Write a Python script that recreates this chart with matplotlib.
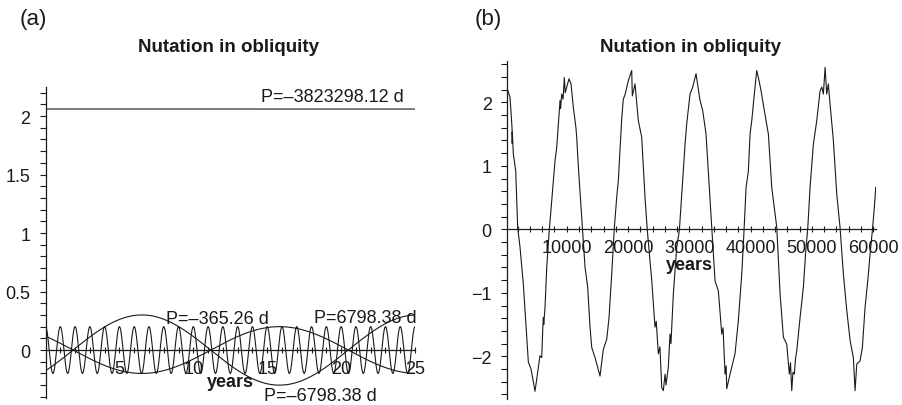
import numpy as np
import matplotlib
matplotlib.use("Agg")
import matplotlib.pyplot as plt
from matplotlib import font_manager
from matplotlib.ticker import FixedLocator, MultipleLocator, FixedFormatter

# ---------------------------------------------------------------------------
# Data
# ---------------------------------------------------------------------------
# panel (a): individual nutation terms (period in days, amplitude, year of max)
term_periods_d = [-3823298.12, -365.26, 6798.38, -6798.38]
term_amplitudes = [2.06, 0.20, 0.30, 0.20]
term_peak_year = [0.0, 0.0, 6.52, 15.83]
term_labels = ["P=–3823298.12 d", "P=–365.26 d", "P=6798.38 d", "P=–6798.38 d"]
label_x = [19.42, 11.64, 21.65, 18.57]
label_y = [2.17, 0.27, 0.28, -0.39]

# panel (b): summed nutation in obliquity
years_b = [
    310, 750, 1080, 1110, 1130, 1290, 1680, 2000, 2380, 2920, 3470, 3740,
    4180, 4830, 5640, 5920, 6100, 6190, 6250, 6460, 6740, 7110, 7550, 8090,
    8370, 8910, 9000, 9180, 9400, 9610, 9750, 10000, 10380, 10700, 11080,
    11500, 11630, 11900, 12550, 12990, 13420, 13800, 14080, 14620, 15430,
    15970, 16530, 16900, 17340, 17770, 18150, 18420, 18970, 19230, 19510,
    20050, 20600, 20700, 21140, 21680, 22230, 22770, 23150, 23870, 24400,
    24600, 24940, 25200, 25500, 25760, 26040, 26200, 26570, 26850, 27000,
    27390, 27940, 28370, 28760, 29300, 29570, 30110, 30550, 31090, 31740,
    32180, 32720, 33260, 33650, 34190, 34730, 35290, 35500, 35820, 36000,
    36100, 36640, 37450, 37990, 38550, 38920, 39250, 39630, 39900, 40180,
    40600, 40990, 41370, 41700, 42230, 42890, 43440, 44260, 44800, 45340,
    45890, 46310, 46500, 46700, 46900, 47130, 47300, 47520, 48060, 48600,
    48990, 49320, 49690, 50230, 50780, 51320, 51600, 51860, 52140, 52410,
    52670, 52950, 53490, 54040, 54580, 55120, 55680, 56220, 56750, 57030,
    57310, 57850, 58220, 58660, 59100, 59480, 59850, 60180, 60400,
]
obliquity_b = [
    2.21, 2.08, 1.60, 1.35, 1.53, 1.19, 0.92, 0.03, -0.28, -0.86, -1.70, -2.09,
    -2.20, -2.55, -1.99, -2.02, -1.55, -1.39, -1.50, -1.23, -0.60, -0.07, 0.45, 1.08,
    1.29, 2.03, 1.90, 2.13, 2.05, 2.39, 2.15, 2.24, 2.37, 2.29, 1.92,
    1.60, 1.45, 0.98, 0.03, -0.60, -0.91, -1.54, -1.86, -2.02, -2.31,
    -1.89, -1.73, -1.39, -0.70, 0.03, 0.50, 0.77, 1.74, 2.05, 2.12,
    2.34, 2.50, 2.10, 2.29, 1.71, 1.45, 0.50, -0.02, -0.81, -1.54,
    -1.45, -1.96, -1.85, -2.49, -2.54, -2.28, -2.45, -2.17, -1.65, -1.80,
    -1.02, -0.28, -0.02, 0.56, 1.34, 1.66, 2.13, 2.24, 2.45, 2.03,
    1.87, 1.50, 0.66, 0.03, -0.81, -0.97, -1.65, -1.55, -2.28, -2.15,
    -2.51, -2.28, -1.96, -1.44, -0.70, -0.02, 0.66, 0.92, 1.50, 1.71,
    2.13, 2.50, 2.34, 2.18, 1.87, 1.50, 0.66, 0.03, -1.02, -1.70,
    -1.81, -2.28, -2.10, -2.54, -2.25, -2.28, -2.05, -1.91, -1.39, -0.91,
    -0.34, 0.03, 0.66, 1.34, 1.71, 2.18, 2.24, 2.13, 2.55, 2.13,
    2.29, 1.97, 1.40, 0.56, 0.03, -0.70, -1.28, -1.75, -2.02, -2.54,
    -2.12, -2.07, -1.86, -1.23, -0.81, -0.39, -0.02, 0.35, 0.66,
]

a_xticks = [5, 10, 15, 20, 25]
a_yticks = [0, 0.5, 1, 1.5, 2]
a_yticklabels = ["0", "0.5", "1", "1.5", "2"]
b_xticks = [10000, 20000, 30000, 40000, 50000, 60000]
b_yticks = [-2, -1, 0, 1, 2]
b_yticklabels = ["−2", "−1", "0", "1", "2"]

# ---------------------------------------------------------------------------
names = {f.name for f in font_manager.fontManager.ttflist}
FONT = "Liberation Sans Narrow" if "Liberation Sans Narrow" in names else "Liberation Sans"
plt.rcParams["font.family"] = [FONT, "DejaVu Sans"]

INK = "#1a1a1a"
FS = 13

fig = plt.figure(figsize=(9.03, 4.06), dpi=100)
ax_a = fig.add_axes([0.0504, 0.0172, 0.4092, 0.7666])
ax_b = fig.add_axes([0.5614, 0.0150, 0.4084, 0.8323])


def maple_axes(ax, xlim, ylim):
    ax.set_xlim(*xlim)
    ax.set_ylim(*ylim)
    for s in ["top", "right"]:
        ax.spines[s].set_visible(False)
    ax.spines["bottom"].set_position(("data", 0))
    for s in ["bottom", "left"]:
        ax.spines[s].set_linewidth(0.9)
        ax.spines[s].set_color(INK)
    ax.tick_params(axis="y", which="both", direction="out", length=4,
                   width=0.8, color=INK, labelsize=FS, pad=7, labelcolor=INK)
    ax.tick_params(axis="x", which="both", direction="inout", length=4,
                   width=0.8, color=INK, labelsize=FS, pad=5, labelcolor=INK)
    ax.patch.set_visible(False)


# panel (a)
maple_axes(ax_a, (0, 25), (-0.41, 2.25))
t = np.linspace(0, 25, 2000)
for P, A, t0 in zip(term_periods_d, term_amplitudes, term_peak_year):
    period_yr = abs(P) / 365.25
    ax_a.plot(t, A * np.cos(2 * np.pi * (t - t0) / period_yr),
              color=INK, linewidth=0.8)
for txt, x, y in zip(term_labels, label_x, label_y):
    ax_a.text(x, y, txt, fontsize=FS, ha="center", va="center", color=INK)
ax_a.xaxis.set_major_locator(FixedLocator(a_xticks))
ax_a.xaxis.set_minor_locator(MultipleLocator(1))
ax_a.yaxis.set_major_locator(FixedLocator(a_yticks))
ax_a.yaxis.set_major_formatter(FixedFormatter(a_yticklabels))
ax_a.yaxis.set_minor_locator(MultipleLocator(0.1))
ax_a.text(12.5, -0.27, "years", fontsize=FS, fontweight="bold",
          ha="center", va="center", color=INK)

# panel (b)
maple_axes(ax_b, (250, 60400), (-2.67, 2.65))
ax_b.plot(years_b, obliquity_b, color=INK, linewidth=0.8)
ax_b.xaxis.set_major_locator(FixedLocator(b_xticks))
ax_b.xaxis.set_minor_locator(MultipleLocator(2000))
ax_b.yaxis.set_major_locator(FixedLocator(b_yticks))
ax_b.yaxis.set_major_formatter(FixedFormatter(b_yticklabels))
ax_b.yaxis.set_minor_locator(MultipleLocator(0.2))
ax_b.text(30000, -0.55, "years", fontsize=FS, fontweight="bold",
          ha="center", va="center", color=INK)

# titles and panel letters
fig.text(229 / 903, 1 - 47 / 406, "Nutation in obliquity", fontsize=FS + 0.5,
         fontweight="bold", ha="center", va="center", color=INK)
fig.text(691 / 903, 1 - 47 / 406, "Nutation in obliquity", fontsize=FS + 0.5,
         fontweight="bold", ha="center", va="center", color=INK)
fig.text(20 / 903, 1 - 19 / 406, "(a)", fontsize=FS + 3, ha="left",
         va="center", color=INK)
fig.text(475 / 903, 1 - 19 / 406, "(b)", fontsize=FS + 3, ha="left",
         va="center", color=INK)

fig.savefig("out.png", dpi=100, facecolor="white")
